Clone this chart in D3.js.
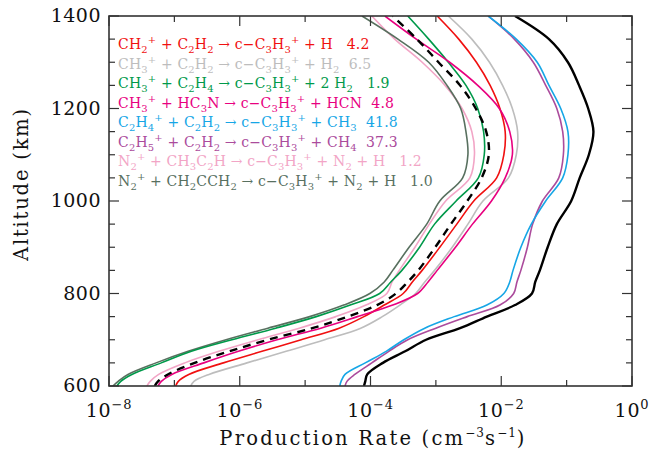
<!DOCTYPE html>
<html>
<head>
<meta charset="utf-8">
<script src="https://cdn.jsdelivr.net/npm/d3@7.9.0/dist/d3.min.js"></script>
<style>
  body { margin: 0; background: #fff; }
  svg { display: block; font-family: "DejaVu Serif", serif; }
</style>
</head>
<body>
<svg id="chart" width="651" height="449"></svg>
<script>
// altitude grid (km)
const altitudes = [600, 610, 625, 650, 675, 700, 725, 750, 775, 800, 825, 850, 900, 950, 1000, 1050, 1100, 1150, 1200, 1250, 1300, 1350, 1400];

// log10 of the production rate (cm^-3 s^-1), one value per altitude
const ch2C2h2 = [-6.98, -6.94, -6.78, -6.25, -5.66, -5.06, -4.48, -4.10, -3.79, -3.50, -3.36, -3.21, -2.94, -2.68, -2.42, -2.07, -1.96, -1.94, -2.02, -2.17, -2.38, -2.65, -2.98];
const ch3C2h2 = [-6.75, -6.70, -6.47, -5.89, -5.29, -4.70, -4.15, -3.82, -3.55, -3.31, -3.17, -3.02, -2.75, -2.51, -2.28, -1.89, -1.77, -1.75, -1.83, -1.98, -2.18, -2.45, -2.81];
const ch3C2h4 = [-7.88, -7.82, -7.65, -7.20, -6.74, -6.12, -5.45, -4.83, -4.31, -3.86, -3.69, -3.52, -3.25, -3.02, -2.69, -2.35, -2.26, -2.27, -2.36, -2.54, -2.81, -3.11, -3.43];
const ch3Hc3n = [-7.25, -7.20, -7.04, -6.55, -6.02, -5.43, -4.76, -4.20, -3.66, -3.28, -3.12, -2.98, -2.70, -2.44, -2.15, -1.94, -1.83, -1.87, -2.03, -2.36, -2.79, -3.30, -3.78];
const c2h4C2h2 = [-4.47, -4.45, -4.39, -4.08, -3.76, -3.49, -3.17, -2.72, -2.22, -1.96, -1.87, -1.82, -1.70, -1.54, -1.32, -1.06, -0.98, -0.98, -1.09, -1.27, -1.45, -1.77, -2.20];
const c2h5C2h2 = [-4.39, -4.36, -4.24, -3.98, -3.72, -3.43, -3.00, -2.52, -2.02, -1.81, -1.76, -1.70, -1.60, -1.52, -1.37, -1.12, -1.05, -1.06, -1.15, -1.32, -1.51, -1.80, -2.20];
const n2Ch3c2h = [-7.42, -7.37, -7.24, -6.84, -6.32, -5.72, -5.09, -4.53, -4.07, -3.75, -3.67, -3.56, -3.32, -3.10, -2.85, -2.48, -2.41, -2.45, -2.60, -2.86, -3.21, -3.63, -3.98];
const n2Ch2cch2 = [-7.94, -7.86, -7.71, -7.28, -6.79, -6.21, -5.57, -4.93, -4.41, -4.01, -3.79, -3.66, -3.41, -3.14, -2.94, -2.59, -2.51, -2.54, -2.62, -2.83, -3.11, -3.58, -4.13];
const dashedTotal = [-7.30, -7.25, -7.10, -6.69, -6.16, -5.57, -4.89, -4.35, -3.90, -3.61, -3.43, -3.27, -3.01, -2.77, -2.52, -2.30, -2.19, -2.23, -2.39, -2.63, -2.96, -3.29, -3.66];
const total = [-4.10, -4.08, -4.05, -3.81, -3.47, -3.15, -2.63, -2.22, -1.79, -1.53, -1.48, -1.41, -1.29, -1.15, -0.93, -0.80, -0.66, -0.59, -0.67, -0.81, -0.98, -1.27, -1.79];

// reaction labels ( _x = subscript, ^x = superscript ) and their share (%)
const reactions = [
  "CH_2^+ + C_2H_2 → c−C_3H_3^+ + H",
  "CH_3^+ + C_2H_2 → c−C_3H_3^+ + H_2",
  "CH_3^+ + C_2H_4 → c−C_3H_3^+ + 2 H_2",
  "CH_3^+ + HC_3N → c−C_3H_3^+ + HCN",
  "C_2H_4^+ + C_2H_2 → c−C_3H_3^+ + CH_3",
  "C_2H_5^+ + C_2H_2 → c−C_3H_3^+ + CH_4",
  "N_2^+ + CH_3C_2H → c−C_3H_3^+ + N_2 + H",
  "N_2^+ + CH_2CCH_2 → c−C_3H_3^+ + N_2 + H"
];
const shares = ["4.2", "6.5", "1.9", "4.8", "41.8", "37.3", "1.2", "1.0"];
const shareGap = ["  ", " ", "  ", " ", " ", " ", "  ", "  "];

const xTicks = [-8, -6, -4, -2, 0];
const yTicks = [600, 800, 1000, 1200, 1400];

const colors = ["#f01010", "#bdbdbd", "#00994a", "#e8007f", "#16a6e6", "#ab4b9c", "#f2a5c6", "#58705f"];
const reactionSeries = [ch2C2h2, ch3C2h2, ch3C2h4, ch3Hc3n, c2h4C2h2, c2h5C2h2, n2Ch3c2h, n2Ch2cch2];

const svg = d3.select("#chart");
const mLeft = 109, mRight = 632, mTop = 16, mBottom = 386;

const x = d3.scaleLog().domain([1e-8, 1]).range([mLeft, mRight]);
const y = d3.scaleLinear().domain([600, 1400]).range([mBottom, mTop]);

svg.append("defs").append("clipPath").attr("id", "clip")
  .append("rect").attr("x", mLeft).attr("y", mTop).attr("width", mRight - mLeft).attr("height", mBottom - mTop);

const line = d3.line()
  .x(d => x(Math.pow(10, d[1])))
  .y(d => y(d[0]))
  .curve(d3.curveCatmullRom);

const plot = svg.append("g").attr("clip-path", "url(#clip)");

function drawSeries(vals, color, width, dash) {
  plot.append("path")
    .datum(altitudes.map((a, i) => [a, vals[i]]))
    .attr("d", line)
    .attr("fill", "none")
    .attr("stroke", color)
    .attr("stroke-width", width)
    .attr("stroke-dasharray", dash);
}

// draw order: light ones first, totals on top
[1, 6, 7, 2, 0, 3, 5, 4].forEach(i => drawSeries(reactionSeries[i], colors[i], 1.6, null));
drawSeries(dashedTotal, "#000", 2.4, "8,6");
drawSeries(total, "#000", 2.4, null);

// frame
const axisColor = "#333";
svg.append("rect")
  .attr("x", mLeft).attr("y", mTop).attr("width", mRight - mLeft).attr("height", mBottom - mTop)
  .attr("fill", "none").attr("stroke", axisColor).attr("stroke-width", 1.6);

// x ticks (every decade, longer on labelled ones)
d3.range(-8, 1).forEach(e => {
  const len = e % 2 === 0 ? 10 : 6;
  const px = x(Math.pow(10, e));
  svg.append("line").attr("x1", px).attr("x2", px).attr("y1", mBottom).attr("y2", mBottom - len)
    .attr("stroke", axisColor).attr("stroke-width", 1.2);
  svg.append("line").attr("x1", px).attr("x2", px).attr("y1", mTop).attr("y2", mTop + len)
    .attr("stroke", axisColor).attr("stroke-width", 1.2);
});

// y ticks (every 50 km)
d3.range(600, 1401, 50).forEach(a => {
  const len = a % 200 === 0 ? 10 : 6;
  const py = y(a);
  svg.append("line").attr("x1", mLeft).attr("x2", mLeft + len).attr("y1", py).attr("y2", py)
    .attr("stroke", axisColor).attr("stroke-width", 1.2);
  svg.append("line").attr("x1", mRight).attr("x2", mRight - len).attr("y1", py).attr("y2", py)
    .attr("stroke", axisColor).attr("stroke-width", 1.2);
});

// x tick labels: 10^e
xTicks.forEach(e => {
  const t = svg.append("text")
    .attr("x", x(Math.pow(10, e)))
    .attr("y", 417)
    .attr("text-anchor", "middle")
    .attr("font-size", 19)
    .attr("letter-spacing", 0.8)
    .attr("fill", "#111");
  t.append("tspan").text("10");
  t.append("tspan").attr("dy", -8).attr("font-size", 13).text(e === 0 ? "0" : "−" + Math.abs(e));
});

// y tick labels
yTicks.forEach(a => {
  svg.append("text")
    .attr("x", 101)
    .attr("y", y(a) + 6)
    .attr("text-anchor", "end")
    .attr("font-size", 19)
    .attr("letter-spacing", 0.5)
    .attr("fill", "#111")
    .text(a);
});

// axis titles
const xt = svg.append("text")
  .attr("x", 373)
  .attr("y", 445)
  .attr("text-anchor", "middle")
  .attr("font-size", 19.5)
  .attr("letter-spacing", 2.2)
  .attr("fill", "#111");
xt.append("tspan").text("Production Rate (cm");
xt.append("tspan").attr("dy", -8).attr("font-size", 12).attr("letter-spacing", 1).text("−3");
xt.append("tspan").attr("dy", 8).text("s");
xt.append("tspan").attr("dy", -8).attr("font-size", 12).attr("letter-spacing", 1).text("−1");
xt.append("tspan").attr("dy", 8).text(")");

svg.append("text")
  .attr("transform", "translate(28,184) rotate(-90)")
  .attr("text-anchor", "middle")
  .attr("font-size", 19.5)
  .attr("letter-spacing", 1.8)
  .attr("fill", "#111")
  .text("Altitude (km)");

// legend
function richText(sel, str) {
  let shift = 0;
  for (let i = 0; i < str.length; i++) {
    const c = str[i];
    if (c === "_" || c === "^") {
      const target = c === "_" ? 4 : -6;
      sel.append("tspan").attr("dy", target - shift).attr("font-size", 10).text(str[i + 1]);
      shift = target;
      i++;
    } else {
      sel.append("tspan").attr("dy", -shift).text(c);
      shift = 0;
    }
  }
}

reactions.forEach((r, i) => {
  const t = svg.append("text")
    .attr("x", 118)
    .attr("y", 49 + i * 19.5)
    .attr("font-size", 14)
    .attr("letter-spacing", 0.15)
    .attr("fill", colors[i])
    .style("white-space", "pre");
  richText(t, r + " " + shareGap[i] + shares[i]);
});
</script>
</body>
</html>
